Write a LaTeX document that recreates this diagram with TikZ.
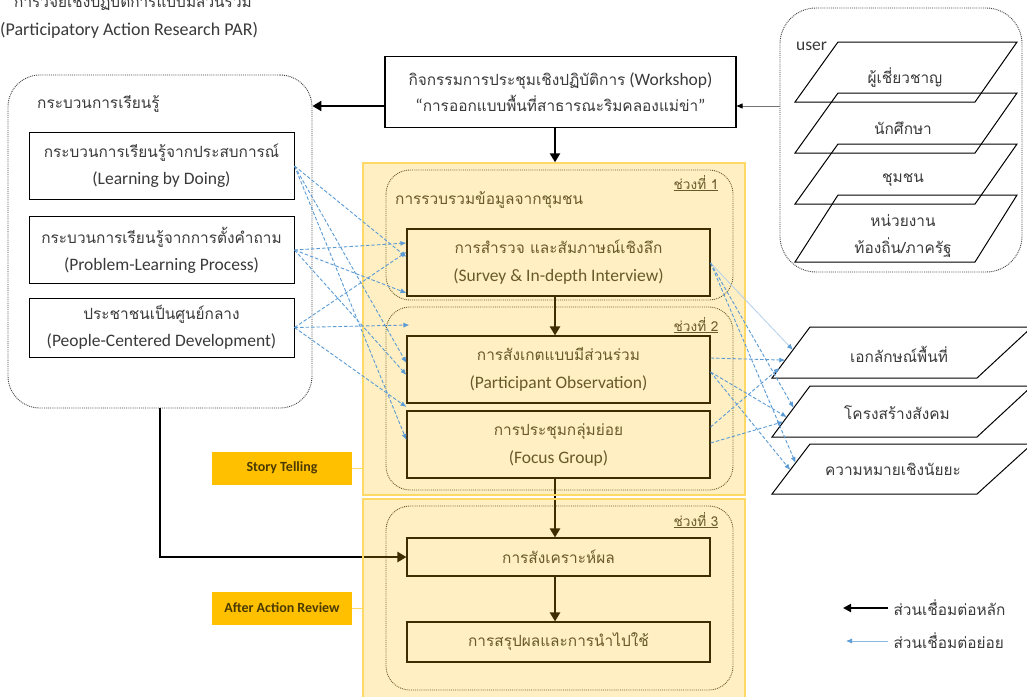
\documentclass[tikz,border=0pt]{standalone}
\usepackage{fontspec}
\setmainfont{Carlito}
\newfontfamily\thfont[Script=Thai,Scale=0.88]{Loma}
\usetikzlibrary{arrows.meta,calc}
\definecolor{blueA}{HTML}{5B9BD5}
\definecolor{paleblue}{HTML}{B4CFEA}
\definecolor{gold}{HTML}{FFC000}
\definecolor{goldline}{HTML}{FFD966}
\definecolor{txt}{HTML}{3A3A3A}
\definecolor{tagtxt}{HTML}{4A3A00}
\newcommand\tht[1]{{\thfont #1}}
\begin{document}
\begin{tikzpicture}[x=1pt,y=-1pt,
  every node/.style={text=txt},
  fnt/.style={font=\fontsize{17.5}{21}\selectfont},
  dotbox/.style={draw=black!75, densely dotted, line width=0.9pt, rounded corners=32pt},
  lbox/.style={draw=black, line width=1pt, minimum width=265pt, minimum height=67pt, align=center, font=\fontsize{17.5}{27}\selectfont},
  mbox/.style={draw=black, line width=1.1pt, minimum width=303pt, minimum height=67pt, align=center, font=\fontsize{17.5}{28}\selectfont},
  panel/.style={draw=goldline, line width=1.4pt, fill=gold, fill opacity=0.24, inner sep=0pt},
  mainarrow/.style={line width=2.8pt, -{Triangle[length=9pt,width=10pt]}},
  thinarrow/.style={draw=black!55, line width=0.8pt, -{Triangle[length=6pt,width=5pt,color=black]}},
  bluearrow/.style={draw=blueA, line width=0.9pt, dash pattern=on 3.5pt off 2pt, -{Latex[length=6pt,width=5pt]}},
  palearrow/.style={draw=paleblue, line width=0.8pt, -{Latex[length=6pt,width=5pt,color=blueA]}},
  tag/.style={fill=gold, minimum width=140pt, minimum height=33pt, text=tagtxt, font=\fontsize{14}{16}\selectfont\bfseries},
  tagline/.style={draw=goldline, line width=0.8pt},
  para/.style={draw=black, line width=1pt},
  stagelbl/.style={anchor=base east, font=\fontsize{15.5}{18}\selectfont},
]
\clip (0,0) rectangle (1027,696);
\fill[white] (0,0) rectangle (1027,696);

% title
\node[anchor=base west, inner sep=0pt, fnt] (t1) at (14,7) {\tht{การวิจัยเชิงปฏิบัติการแบบมีส่วนร่วม}};
\node[anchor=base west, inner sep=0pt, font=\fontsize{18}{21}\selectfont] (t2) at (0,35) {(Participatory Action Research PAR)};

% left learning process
\node[dotbox, minimum width=304pt, minimum height=333pt] (lp) at (160,241.5) {};
\node[anchor=base west, inner sep=0pt, fnt] (lpt) at (37,108) {\tht{กระบวนการเรียนรู้}};
\node[lbox] (lb1) at (161.5,166) {\tht{กระบวนการเรียนรู้จากประสบการณ์}\\(Learning by Doing)};
\node[lbox] (lb2) at (161.5,250) {\tht{กระบวนการเรียนรู้จากการตั้งคำถาม}\\(Problem-Learning Process)};
\node[lbox, minimum height=59pt] (lb3) at (161.5,327.5) {\tht{ประชาชนเป็นศูนย์กลาง}\\(People-Centered Development)};

% workshop
\node[draw=black, line width=1.1pt, minimum width=351pt, minimum height=71pt, align=center, font=\fontsize{17.5}{26}\selectfont] (ws) at (560.5,92) {\tht{กิจกรรมการประชุมเชิงปฏิบัติการ} (Workshop)\\``\tht{การออกแบบพื้นที่สาธารณะริมคลองแม่ข่า}''};

% user box
\node[dotbox, rounded corners=36pt, minimum width=242pt, minimum height=264pt] (ub) at (901,140) {};
\node[anchor=base west, inner sep=0pt, fnt] (usr) at (796,50) {user};
\draw[para] (838,42) -- (1017,42) -- (975,102) -- (795,102) -- cycle;
\draw[para] (838,93) -- (1017,93) -- (975,153) -- (795,153) -- cycle;
\draw[para] (838,144) -- (1017,144) -- (975,204) -- (795,204) -- cycle;
\draw[para] (838,195) -- (1017,195) -- (975,262) -- (795,262) -- cycle;
\node[fnt] (u1) at (905,78) {\tht{ผู้เชี่ยวชาญ}};
\node[fnt] (u2) at (903,128) {\tht{นักศึกษา}};
\node[fnt] (u3) at (903,180) {\tht{ชุมชน}};
\node[font=\fontsize{17.5}{27}\selectfont, align=center] (u4) at (903,236) {\tht{หน่วยงาน}\\\tht{ท้องถิ่น/ภาครัฐ}};

% output parallelograms
\coordinate (q1tl) at (810,327); \coordinate (q1bl) at (772,378);
\coordinate (q2tl) at (810,386); \coordinate (q2bl) at (772,437);
\coordinate (q3tl) at (810,444); \coordinate (q3bl) at (772,494);
\draw[para] (q1tl) -- (1032,327) -- (977,378) -- (q1bl) -- cycle;
\draw[para] (q2tl) -- (1032,386) -- (977,437) -- (q2bl) -- cycle;
\draw[para] (q3tl) -- (1032,444) -- (977,494) -- (q3bl) -- cycle;
\node[fnt] (o1) at (899,354) {\tht{เอกลักษณ์พื้นที่}};
\node[fnt] (o2) at (897,413) {\tht{โครงสร้างสังคม}};
\node[fnt] (o3) at (893,469) {\tht{ความหมายเชิงนัยยะ}};

% stages
\draw[dotbox, rounded corners=24pt] (386,170) rectangle (733,300);
\draw[dotbox, rounded corners=24pt] (386,307) rectangle (733,490);
\draw[dotbox, rounded corners=24pt] (386,506) rectangle (733,690);
\node[anchor=base west, inner sep=0pt, fnt] (s1t) at (395,204) {\tht{การรวบรวมข้อมูลจากชุมชน}};
\node[stagelbl] (s1) at (722,189) {\tht{\underline{ช่วงที่ 1}}};
\node[stagelbl] (s2) at (722,331) {\tht{\underline{ช่วงที่ 2}}};
\node[stagelbl] (s3) at (722,526) {\tht{\underline{ช่วงที่ 3}}};

\node[mbox] (sv) at (558.5,262.5) {\tht{การสำรวจ และสัมภาษณ์เชิงลึก}\\(Survey \& In-depth Interview)};
\node[mbox] (ob) at (558.5,369.5) {\tht{การสังเกตแบบมีส่วนร่วม}\\(Participant Observation)};
\node[mbox] (fg) at (558.5,444.5) {\tht{การประชุมกลุ่มย่อย}\\(Focus Group)};
\node[mbox, minimum height=38pt] (sy) at (558.5,557) {\tht{การสังเคราะห์ผล}};
\node[mbox, minimum height=40pt] (cl) at (558.5,642) {\tht{การสรุปผลและการนำไปใช้}};

% main arrows (under the panel tint)
\draw[mainarrow] (sv.south -| 555,0) -- (ob.north -| 555,0);
\draw[mainarrow] (fg.south -| 555,0) -- (sy.north -| 555,0);
\draw[mainarrow] (sy.south -| 555,0) -- (cl.north -| 555,0);
\draw[mainarrow] (lp.south) |- (sy.west);

% panels
\node[panel, minimum width=382pt, minimum height=332pt] (p1) at (554,329) {};
\node[panel, minimum width=382pt, minimum height=205pt] (p2) at (554,601.5) {};

\draw[mainarrow] (ws.south -| 555,0) -- (p1.north -| 555,0);
\coordinate (wa) at ($(ws.west)+(0,14)$);
\draw[mainarrow] (wa) -- (wa -| lp.east);
\coordinate (ua) at ($(ws.east)+(0,14)$);
\draw[thinarrow] (ua -| ub.west) -- (ua);

% tags
\node[tag] (st) at (282,468) {Story Telling};
\node[tag] (ar) at (282,608) {After Action Review};
\draw[tagline] (st.east) -- (st.east -| p1.west);
\draw[tagline] (ar.east) -- (ar.east -| p2.west);

% blue connectors left
\draw[bluearrow] (lb1.east) -- ($(sv.west)+(0,-5.5)$);
\draw[bluearrow] (lb1.east) -- ($(ob.west)+(0,-6.5)$);
\draw[bluearrow] (lb1.east) -- ($(fg.west)+(0,-4.5)$);
\draw[bluearrow] (lb2.east) -- ($(sv.west)+(0,-19.5)$);
\draw[bluearrow] (lb2.east) -- ($(sv.west)+(0,30.5)$);
\draw[bluearrow] (lb2.east) -- ($(ob.west)+(0,5.5)$);
\draw[bluearrow] (lb3.east) -- ($(sv.west)+(0,-10.5)$);
\draw[bluearrow] (lb3.east) -- ($(ob.west)+(3,-44.5)$);
\draw[bluearrow] (lb3.east) -- ($(ob.west)+(0,37.5)$);

% blue connectors right
\draw[palearrow] ($(sv.east)+(0,0.5)$) -- ($(q1tl)!0.45!(q1bl)$);
\draw[bluearrow] ($(sv.east)+(0,0.5)$) -- ($(q2tl)!0.43!(q2bl)$);
\draw[bluearrow] ($(sv.east)+(0,0.5)$) -- ($(q3tl)!0.38!(q3bl)$);
\draw[bluearrow] ($(ob.east)+(0,-11.5)$) -- ($(q1tl)!0.65!(q1bl)$);
\draw[bluearrow] ($(ob.east)+(0,2.5)$) -- ($(q2tl)!0.61!(q2bl)$);
\draw[bluearrow] ($(ob.east)+(0,2.5)$) -- ($(q3tl)!0.52!(q3bl)$);
\draw[bluearrow] ($(fg.east)+(0,-17.5)$) -- ($(q1tl)!0.8!(q1bl)$);
\draw[bluearrow] ($(fg.east)+(0,-1.5)$) -- ($(q2tl)!0.7!(q2bl)$);

% legend
\node[anchor=west, fnt] (lg1) at (890,608) {\tht{ส่วนเชื่อมต่อหลัก}};
\node[anchor=west, fnt] (lg2) at (890,641) {\tht{ส่วนเชื่อมต่อย่อย}};
\draw[line width=2.2pt, -{Triangle[length=8pt,width=8pt]}] ($(lg1.west)+(-2,0)$) -- ++(-45,0);
\draw[draw=blueA!70, line width=0.7pt, -{Latex[length=6pt,width=5pt,color=blueA]}] ($(lg2.west)+(-2,0)$) -- ++(-42,0);
\end{tikzpicture}
\end{document}
